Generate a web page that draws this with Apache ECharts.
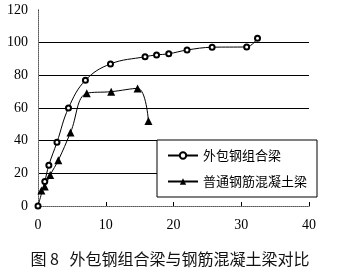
<!DOCTYPE html>
<html><head><meta charset="utf-8">
<script src="https://cdn.jsdelivr.net/npm/echarts@6/dist/echarts.min.js"></script>
<style>html,body{margin:0;padding:0;background:#fff}#c{width:340px;height:276px}</style>
</head><body><div id="c"></div>
<script>
var seriesNames = ['外包钢组合梁', '普通钢筋混凝土梁'];
var compositeX = [0, 1.0, 1.6, 2.8, 4.5, 7.0, 10.7, 15.8, 17.5, 19.3, 22.0, 25.7, 30.8, 32.4];
var compositeY = [0, 15, 25, 39, 60, 77, 87, 91.4, 92.5, 93.2, 95.5, 97.2, 97.4, 102.7];
var rcX = [0.5, 1.0, 1.8, 3.0, 4.8, 7.2, 10.8, 14.7, 16.3];
var rcY = [9.5, 12, 19, 28, 45, 69, 70, 72, 52];
var xTicks = [0, 10, 20, 30, 40];
var yTicks = [0, 20, 40, 60, 80, 100, 120];
var titleText = '图 8   外包钢组合梁与钢筋混凝土梁对比';

function pairs(xs, ys){ return xs.map(function(x,i){ return [x, ys[i]]; }); }

var chart = echarts.init(document.getElementById('c'), null, {renderer:'canvas'});
var labelFont = {color:'#000', fontFamily:'Liberation Serif', fontSize:14};
chart.setOption({
  animation:false,
  backgroundColor:'#fff',
  title:{text:titleText, left:'center', bottom:4,
    textStyle:{fontFamily:'Noto Sans CJK SC', fontSize:16, fontWeight:'normal', color:'#111'}},
  grid:{left:38, right:31, top:10, bottom:70},
  legend:{orient:'vertical', left:157, top:140, width:140, height:58,
    backgroundColor:'#fff', borderColor:'#000', borderWidth:1, padding:[9,10,9,10],
    itemGap:13, itemWidth:30, itemHeight:8,
    textStyle:{fontFamily:'Noto Sans CJK SC', fontSize:13, color:'#000'},
    data:seriesNames},
  xAxis:[{type:'value', min:xTicks[0], max:xTicks[xTicks.length-1], interval:10,
    axisLine:{lineStyle:{color:'#000'}}, axisTick:{inside:true, length:4, lineStyle:{color:'#000'}},
    axisLabel:Object.assign({margin:12}, labelFont), splitLine:{show:false}},
    {type:'value', position:'top', min:0, max:40, axisLine:{show:true, lineStyle:{color:'#888', type:'dotted'}},
     axisTick:{show:false}, axisLabel:{show:false}, splitLine:{show:false}}],
  yAxis:[{type:'value', min:yTicks[0], max:yTicks[yTicks.length-1], interval:20,
    axisLine:{show:true, lineStyle:{color:'#000'}}, axisTick:{show:false},
    axisLabel:Object.assign({margin:10}, labelFont),
    splitLine:{show:true, showMinLine:false, showMaxLine:false, lineStyle:{color:'#000', width:1}}},
    {type:'value', position:'right', min:0, max:120, axisLine:{show:true, lineStyle:{color:'#888', type:'dotted'}},
     axisTick:{show:false}, axisLabel:{show:false}, splitLine:{show:false}}],
  series:[
    {name:seriesNames[0], type:'line', data:pairs(compositeX, compositeY), smooth:0.4,
     symbol:'emptyCircle', symbolSize:5, z:3,
     lineStyle:{color:'#000', width:1}, itemStyle:{color:'#000', borderColor:'#000', borderWidth:1}},
    {name:seriesNames[1], type:'line', data:pairs(rcX, rcY), smooth:0.4,
     symbol:'triangle', symbolSize:8, z:2,
     lineStyle:{color:'#000', width:1}, itemStyle:{color:'#000'}}
  ]
});
</script></body></html>
